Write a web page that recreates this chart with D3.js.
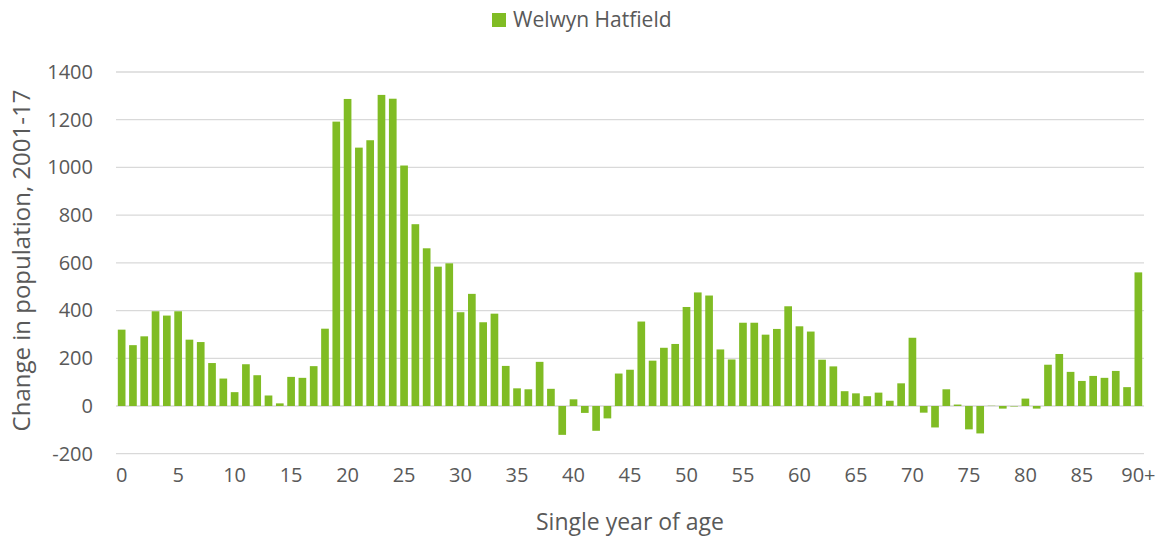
<!DOCTYPE html>
<html>
<head>
<meta charset="utf-8">
<script src="https://cdn.jsdelivr.net/npm/d3@7"></script>
<style>
  body { margin: 0; background: #fff; }
  text { font-family: "Open Sans", sans-serif; fill: #595959; }
</style>
</head>
<body>
<div id="chart"></div>
<script>
(function () {

  // Single year of age, 0..90+
  var ages = d3.range(0, 91).map(function (d) { return d === 90 ? "90+" : String(d) })

  // Change in population 2001-17, Welwyn Hatfield
  var changes = [
    320, 255, 292, 397, 379, 397, 278, 268, 180, 115,
    58, 175, 129, 44, 11, 122, 118, 167, 324, 1192,
    1287, 1083, 1114, 1304, 1288, 1008, 762, 661, 584, 598,
    393, 470, 351, 387, 168, 74, 70, 185, 72, -121,
    28, -29, -104, -52, 136, 152, 354, 190, 244, 260,
    415, 476, 463, 237, 195, 349, 349, 299, 323, 418,
    334, 312, 194, 166, 62, 53, 41, 56, 22, 95,
    286, -28, -90, 70, 6, -98, -115, 1, -11, -2,
    31, -11, 173, 218, 143, 105, 126, 118, 147, 79,
    560
  ]

  var yTicks = [-200, 0, 200, 400, 600, 800, 1000, 1200, 1400]
  var seriesName = "Welwyn Hatfield"

  var margin = { top: 72, right: 18, bottom: 85, left: 116 }
  var width = 1162 - margin.left - margin.right,
      height = 538 - margin.top - margin.bottom

  var svg = d3.select("#chart").append("svg")
      .attr("width", 1162)
      .attr("height", 538)

  var g = svg.append("g")
      .attr("transform", "translate(" + margin.left + "," + margin.top + ")")

  var x = d3.scaleBand()
    .domain(ages)
    .range([0, width])
    .paddingInner(0.32)
    .paddingOuter(0.16)

  var y = d3.scaleLinear()
    .domain([-200, 1400])
    .range([height + 0.7, 0])

  // gridlines
  g.selectAll(".grid")
    .data(yTicks)
    .enter().append("line")
    .attr("x1", 0)
    .attr("x2", width)
    .attr("y1", function (d) { return y(d) })
    .attr("y2", function (d) { return y(d) })
    .attr("stroke", "#d9d9d9")
    .attr("stroke-width", 1.3)

  // bars
  g.selectAll(".bar")
    .data(changes)
    .enter().append("rect")
    .attr("x", function (d, i) { return x(ages[i]) })
    .attr("width", x.bandwidth())
    .attr("y", function (d) { return y(Math.max(0, d)) })
    .attr("height", function (d) { return Math.abs(y(d) - y(0)) })
    .attr("fill", "#80bc24")

  // y axis labels
  var yAxis = d3.axisLeft(y)
    .tickValues(yTicks)
    .tickFormat(function (d) { return String(d) })
    .tickSize(0)
    .tickPadding(23)
  g.append("g")
    .attr("class", "axis y-axis")
    .call(yAxis)
    .call(function (sel) { sel.select(".domain").remove() })
    .selectAll("text")
    .style("font-size", "20px")
    .style("font-family", "'Open Sans', sans-serif")
    .attr("fill", "#595959")

  // x axis labels, every 5 years
  var xAxis = d3.axisBottom(x)
    .tickValues(ages.filter(function (d, i) { return i % 5 === 0 || i === 90 }))
    .tickSize(0)
    .tickPadding(15)
  g.append("g")
    .attr("class", "axis x-axis")
    .attr("transform", "translate(0," + height + ")")
    .call(xAxis)
    .call(function (sel) { sel.select(".domain").remove() })
    .selectAll("text")
    .style("font-size", "20px")
    .style("font-family", "'Open Sans', sans-serif")
    .attr("fill", "#595959")

  // axis titles
  svg.append("text")
    .attr("x", margin.left + width / 2)
    .attr("y", 530)
    .attr("text-anchor", "middle")
    .style("font-size", "23px")
    .text("Single year of age")

  svg.append("text")
    .attr("transform", "translate(30," + (margin.top + height / 2 - 2) + ") rotate(-90)")
    .attr("text-anchor", "middle")
    .style("font-size", "24px")
    .text("Change in population, 2001-17")

  // legend
  var legend = svg.append("g")
    .attr("transform", "translate(492,13)")
  legend.append("rect")
    .attr("width", 14)
    .attr("height", 14)
    .attr("fill", "#80bc24")
  legend.append("text")
    .attr("x", 21)
    .attr("y", 14)
    .style("font-size", "21px")
    .text(seriesName)

})()
</script>
</body>
</html>
